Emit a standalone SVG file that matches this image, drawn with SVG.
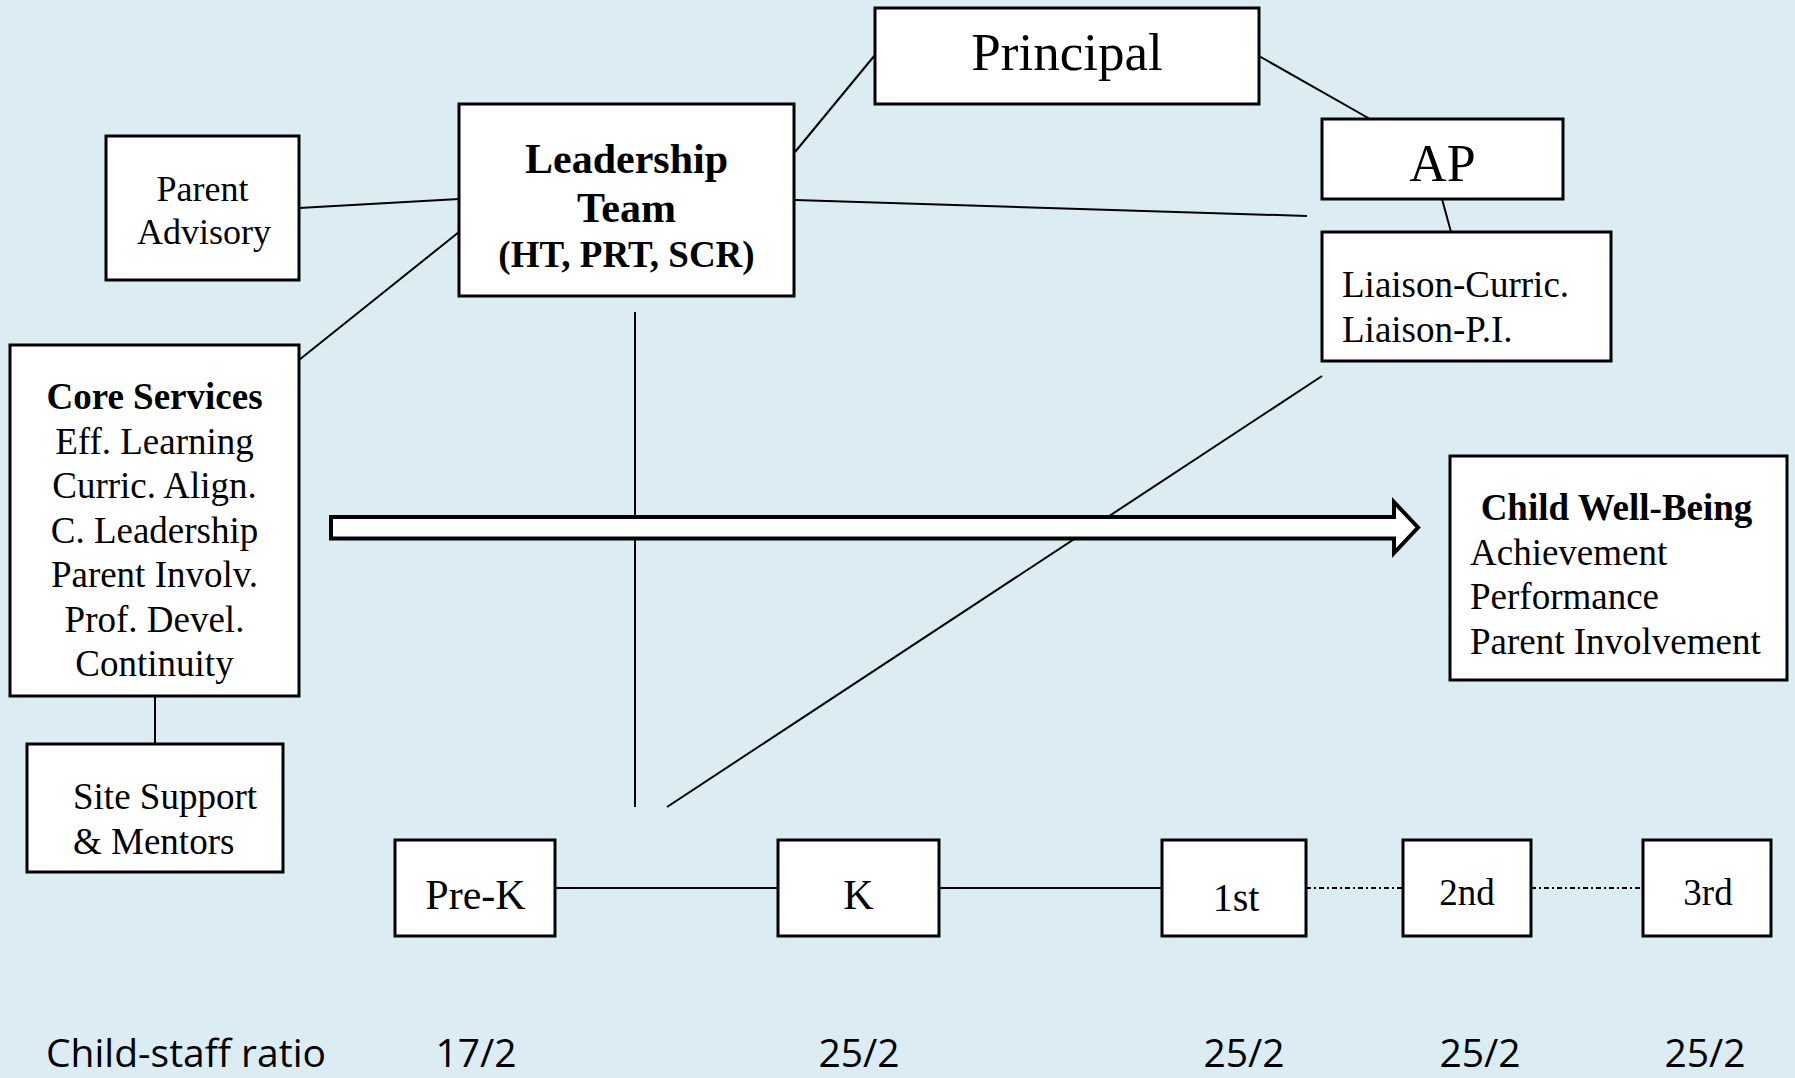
<svg xmlns="http://www.w3.org/2000/svg" width="1795" height="1078" viewBox="0 0 1795 1078">
<style>
.box{fill:#ffffff;stroke:#000000;stroke-width:3}
.ln{stroke:#000000;stroke-width:2;fill:none}
.dd{stroke:#000000;stroke-width:2;fill:none;stroke-dasharray:5 3 2 3}
.t{font-family:"Liberation Serif","Times New Roman",serif;fill:#000000}
.b{font-weight:bold}
.c{text-anchor:middle}
.r{font-family:"Open Sans","Noto Sans",sans-serif;font-size:39px;fill:#000000;text-anchor:middle}
</style>
<rect x="0" y="0" width="1795" height="1078" fill="#DBEDF3"/>
<g id="connectors">
<line class="ln" x1="795" y1="152" x2="875" y2="55"/>
<line class="ln" x1="1259" y1="56" x2="1370" y2="119"/>
<line class="ln" x1="299" y1="208" x2="459" y2="199"/>
<line class="ln" x1="299" y1="360" x2="459" y2="232"/>
<line class="ln" x1="795" y1="200" x2="1307" y2="216"/>
<line class="ln" x1="1442" y1="199" x2="1451" y2="232"/>
<line class="ln" x1="155" y1="696" x2="155" y2="743"/>
<line class="ln" x1="635" y1="312" x2="635" y2="807"/>
<line class="ln" x1="1322" y1="376" x2="667" y2="807"/>
<line class="ln" x1="555" y1="888" x2="778" y2="888"/>
<line class="ln" x1="939" y1="888" x2="1162" y2="888"/>
<line class="dd" x1="1306" y1="888" x2="1403" y2="888"/>
<line class="dd" x1="1531" y1="888" x2="1643" y2="888"/>
<polygon points="331,517 1394,517 1394,502 1418,527.5 1394,553 1394,538.5 331,538.5" fill="#ffffff" stroke="#000000" stroke-width="4" stroke-linejoin="miter"/>
</g>
<g id="principal">
<rect class="box" x="875" y="8" width="384" height="96"/>
<text class="t c" x="1067" y="70" font-size="53">Principal</text>
</g>
<g id="leadership">
<rect class="box" x="459" y="104" width="335" height="192"/>
<text class="t b c" x="626.5" y="173" font-size="42">Leadership</text>
<text class="t b c" x="626.5" y="222" font-size="42">Team</text>
<text class="t b c" x="626.5" y="267" font-size="37">(HT, PRT, SCR)</text>
</g>
<g id="parent-advisory">
<rect class="box" x="106" y="136" width="193" height="144"/>
<text class="t c" x="202.5" y="201" font-size="36">Parent</text>
<text class="t c" x="204" y="244" font-size="36">Advisory</text>
</g>
<g id="ap">
<rect class="box" x="1322" y="119" width="241" height="80"/>
<text class="t c" x="1442.5" y="181" font-size="52">AP</text>
</g>
<g id="liaison">
<rect class="box" x="1322" y="232" width="289" height="129"/>
<text class="t" x="1342" y="297" font-size="37">Liaison-Curric.</text>
<text class="t" x="1342" y="342" font-size="37">Liaison-P.I.</text>
</g>
<g id="core-services">
<rect class="box" x="10" y="345" width="289" height="351"/>
<text class="t b c" x="154.5" y="409" font-size="37">Core Services</text>
<text class="t c" x="154.5" y="453.5" font-size="37">Eff. Learning</text>
<text class="t c" x="154.5" y="498" font-size="37">Curric. Align.</text>
<text class="t c" x="154.5" y="542.5" font-size="37">C. Leadership</text>
<text class="t c" x="154.5" y="587" font-size="37">Parent Involv.</text>
<text class="t c" x="154.5" y="631.5" font-size="37">Prof. Devel.</text>
<text class="t c" x="154.5" y="676" font-size="37">Continuity</text>
</g>
<g id="site-support">
<rect class="box" x="27" y="744" width="256" height="128"/>
<text class="t" x="73" y="809" font-size="37">Site Support</text>
<text class="t" x="73" y="854" font-size="37">&amp; Mentors</text>
</g>
<g id="child-well-being">
<rect class="box" x="1450" y="456" width="337" height="224"/>
<text class="t b c" x="1616.5" y="520" font-size="37">Child Well-Being</text>
<text class="t" x="1470" y="565" font-size="37">Achievement</text>
<text class="t" x="1470" y="609" font-size="37">Performance</text>
<text class="t" x="1470" y="654" font-size="37">Parent Involvement</text>
</g>
<g id="pre-k">
<rect class="box" x="395" y="840" width="160" height="96"/>
<text class="t c" x="475.5" y="909" font-size="42">Pre-K</text>
</g>
<g id="k">
<rect class="box" x="778" y="840" width="161" height="96"/>
<text class="t c" x="858.5" y="909" font-size="42">K</text>
</g>
<g id="first">
<rect class="box" x="1162" y="840" width="144" height="96"/>
<text class="t c" x="1236" y="911" font-size="40">1st</text>
</g>
<g id="second">
<rect class="box" x="1403" y="840" width="128" height="96"/>
<text class="t c" x="1467" y="905" font-size="37">2nd</text>
</g>
<g id="third">
<rect class="box" x="1643" y="840" width="128" height="96"/>
<text class="t c" x="1708" y="905" font-size="37">3rd</text>
</g>
<g id="ratios">
<text class="r" x="46" y="1067" style="text-anchor:start">Child-staff ratio</text>
<text class="r" x="476" y="1067">17/2</text>
<text class="r" x="859" y="1067">25/2</text>
<text class="r" x="1244" y="1067">25/2</text>
<text class="r" x="1480" y="1067">25/2</text>
<text class="r" x="1705" y="1067">25/2</text>
</g>
</svg>
